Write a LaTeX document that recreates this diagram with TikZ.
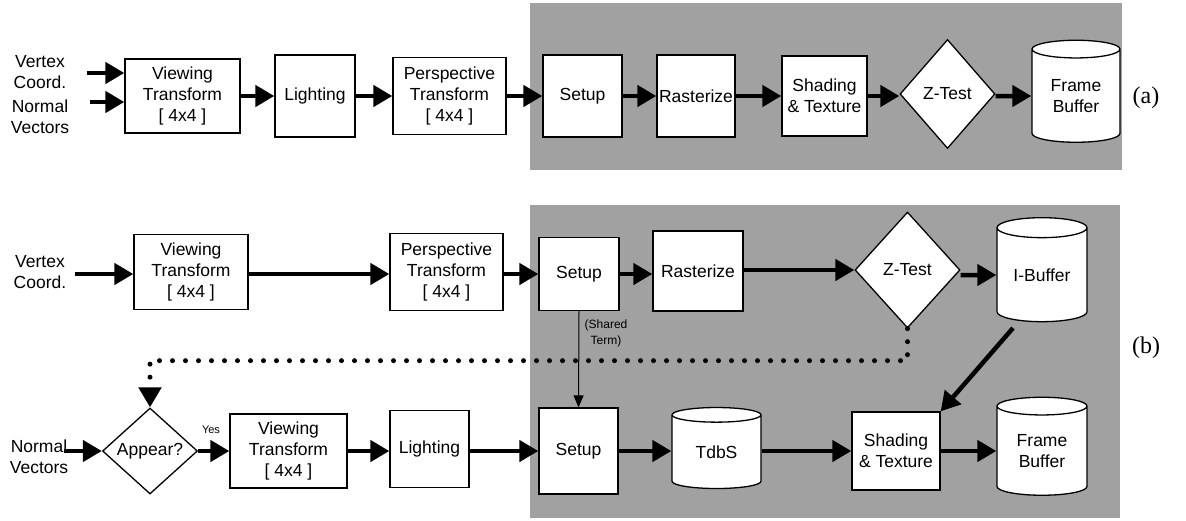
\documentclass[tikz,border=0pt]{standalone}
\usepackage{fontspec}
\setmainfont{Liberation Sans}
\newfontfamily\tagfont{Liberation Serif}
\usetikzlibrary{shapes.geometric,arrows.meta}

\tikzset{
  box/.style={draw, line width=1.3pt, fill=white, align=center, inner sep=0pt,
    font=\fontsize{17.5}{21}\selectfont},
  test/.style={box, diamond},
  store/.style={box, cylinder, shape border rotate=90, aspect=0.35},
  side/.style={align=center, font=\fontsize{17.5}{21}\selectfont},
  zone/.style={fill=black!37},
  flow/.style={line width=4.5pt, -{Triangle[length=19pt,width=21pt]}},
  tap/.style={line width=1pt, -{Triangle[length=12pt,width=10pt]}},
  loopback/.style={line width=5pt, line cap=round, dash pattern=on 0pt off 13pt,
    -{Triangle[length=20pt,width=22pt]}},
}

\begin{document}
\begin{tikzpicture}[x=1pt, y=-1pt]
  \useasboundingbox (0,0) rectangle (1186,520);
  % Shaded back ends
  \fill[zone] (530,3) rectangle (1122,170);
  \fill[zone] (530,205) rectangle (1120,518);

  % Nodes, pipeline (a)
  \node (vtxa) [side] at (40,72) {Vertex\\Coord.};
  \node (nrma) [side] at (40,117) {Normal\\Vectors};
  \node (viewa) [box, minimum width=115pt, minimum height=74pt] at (182.5,96) {Viewing\\Transform\\{[ 4x4 ]}};
  \node (lighta) [box, minimum width=80pt, minimum height=82pt] at (315,96) {Lighting};
  \node (persa) [box, minimum width=113pt, minimum height=77pt] at (449.5,96) {Perspective\\Transform\\{[ 4x4 ]}};
  \node (seta) [box, minimum width=79pt, minimum height=82pt] at (582.5,96) {Setup};
  \node (rasta) [box, minimum width=78pt, minimum height=82pt] at (696,96) {Rasterize};
  \node (shada) [box, minimum width=85pt, minimum height=80pt] at (824.5,96) {Shading\\\& Texture};
  \node (zta) [test, minimum width=95pt, minimum height=109pt] at (947.5,94) {Z-Test};
  \node (fba) [store, minimum width=88pt, minimum height=102pt] at (1076,96) {Frame\\Buffer};
  \node (taga) [font=\tagfont\fontsize{24}{28}\selectfont] at (1146,98) {(a)};

  % Edges, pipeline (a)
  \coordinate (vtxaout) at (87,73);
  \coordinate (nrmaout) at (90,102);
  \draw[flow] (vtxaout) -- (vtxaout -| viewa.west);
  \draw[flow] (nrmaout) -- (nrmaout -| viewa.west);
  \draw[flow] (viewa) -- (lighta);
  \draw[flow] (lighta) -- (persa);
  \draw[flow] (persa) -- (seta);
  \draw[flow] (seta) -- (rasta);
  \draw[flow] (rasta) -- (shada);
  \draw[flow] (shada) -- (shada -| zta.west);
  \draw[flow] (zta.east |- fba) -- (fba);

  % Nodes, pipeline (b), upper row
  \node (vtxb) [side] at (40,272) {Vertex\\Coord.};
  \node (viewb) [box, minimum width=114pt, minimum height=75pt] at (191,272) {Viewing\\Transform\\{[ 4x4 ]}};
  \node (persb) [box, minimum width=113pt, minimum height=77pt] at (446.5,272) {Perspective\\Transform\\{[ 4x4 ]}};
  \node (setb) [box, minimum width=80pt, minimum height=73pt] at (579,274) {Setup};
  \node (rastb) [box, minimum width=90pt, minimum height=80pt] at (698,271) {Rasterize};
  \node (ztb) [test, minimum width=105pt, minimum height=116pt] at (907.5,270) {Z-Test};
  \node (ibuf) [store, minimum width=90pt, minimum height=104pt] at (1042,275) {I-Buffer};
  \node (tagb) [font=\tagfont\fontsize{24}{28}\selectfont] at (1146,348) {(b)};

  % Nodes, pipeline (b), lower row
  \node (nrmc) [side] at (39,457) {Normal\\Vectors};
  \node (appear) [test, minimum width=95pt, minimum height=86pt] at (150,451) {Appear?};
  \node (yes) [font=\fontsize{11}{13}\selectfont] at (211,430) {Yes};
  \node (viewc) [box, minimum width=117pt, minimum height=74pt] at (288.5,451) {Viewing\\Transform\\{[ 4x4 ]}};
  \node (lightc) [box, minimum width=79pt, minimum height=77pt] at (429.5,449) {Lighting};
  \node (setc) [box, minimum width=79pt, minimum height=86pt] at (578.5,451) {Setup};
  \node (tdbs) [store, minimum width=89pt, minimum height=81pt] at (716.5,452) {TdbS};
  \node (shadb) [box, minimum width=88pt, minimum height=78pt] at (896,451) {Shading\\\& Texture};
  \node (fbb) [store, minimum width=90pt, minimum height=98pt] at (1042,451) {Frame\\Buffer};
  \node (shared) [align=center, font=\fontsize{12}{16}\selectfont] at (606,333) {(Shared\\Term)};

  % Edges, pipeline (b)
  \coordinate (vtxbout) at (75,274);
  \coordinate (nrmcout) at (64,451);
  \coordinate (ibfoot) at (1013,328);
  \draw[flow] (vtxbout) -- (vtxbout -| viewb.west);
  \draw[flow] (viewb.east |- vtxbout) -- (vtxbout -| persb.west);
  \draw[flow] (persb.east |- vtxbout) -- (vtxbout -| setb.west);
  \draw[flow] (setb.east |- vtxbout) -- (vtxbout -| rastb.west);
  \draw[flow] (rastb.east |- ztb) -- (ztb.west);
  \draw[flow] (ztb.east |- ibuf) -- (ibuf);
  \draw[tap] (setb.south) -- (setc.north);
  \draw[loopback] (ztb.south) -- ++(0,32) -| (appear.north);
  \draw[flow] (nrmcout) -- (appear.west);
  \draw[flow] (appear) -- (viewc);
  \draw[flow] (viewc.east |- nrmcout) -- (nrmcout -| lightc.west);
  \draw[flow] (lightc.east |- nrmcout) -- (nrmcout -| setc.west);
  \draw[flow] (setc) -- (setc -| tdbs.west);
  \draw[flow] (tdbs.east |- setc) -- (setc -| shadb.west);
  \draw[flow] (shadb) -- (shadb -| fbb.west);
  \draw[flow] (ibfoot) -- (shadb.north east);
\end{tikzpicture}
\end{document}
